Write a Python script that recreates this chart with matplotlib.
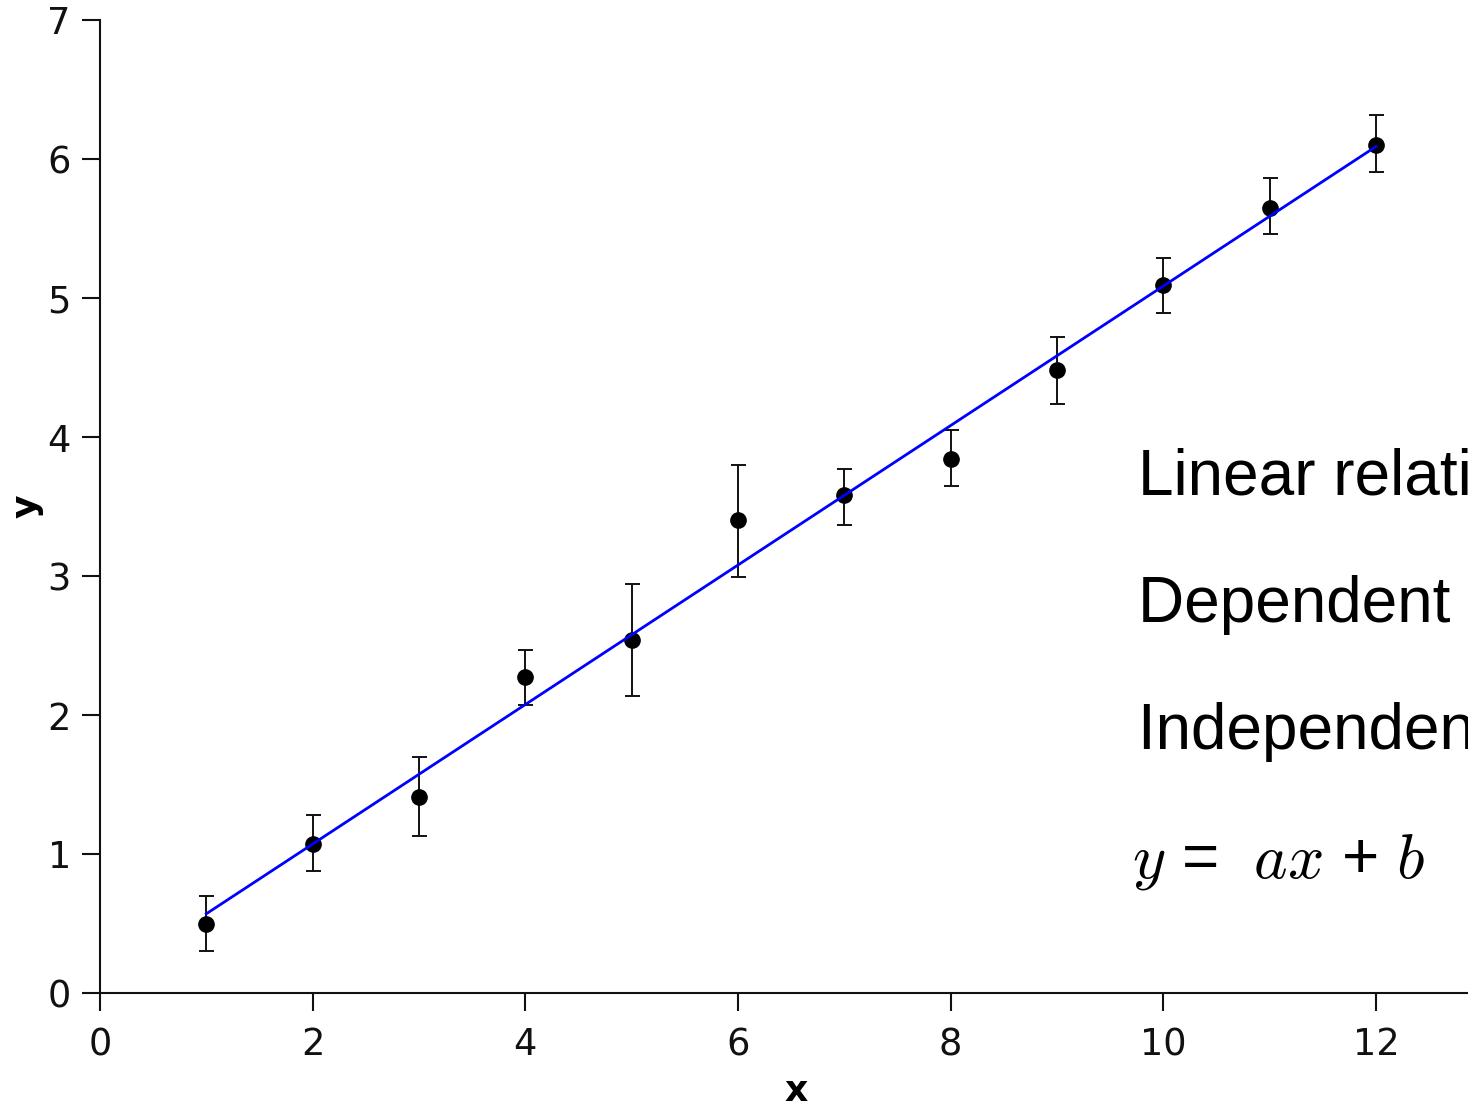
#!/usr/bin/env python3
"""
Linear relationship: measured points with error bars and a fitted line.
"""
import matplotlib
matplotlib.use("Agg")
import matplotlib.pyplot as plt

x_vals = [1, 2, 3, 4, 5, 6, 7, 8, 9, 10, 11, 12]
y_vals = [0.50, 1.07, 1.41, 2.27, 2.54, 3.40, 3.58, 3.84, 4.48, 5.09, 5.65, 6.10]
y_err_lo = [0.20, 0.19, 0.28, 0.20, 0.40, 0.41, 0.21, 0.19, 0.24, 0.20, 0.19, 0.19]
y_err_hi = [0.20, 0.21, 0.29, 0.20, 0.40, 0.40, 0.19, 0.21, 0.24, 0.20, 0.21, 0.22]

# fitted line end points
fit_x = [1, 12]
fit_y = [0.57, 6.09]

x_ticks = [0, 2, 4, 6, 8, 10, 12]
y_ticks = [0, 1, 2, 3, 4, 5, 6, 7]

notes = ["Linear relationship", "Dependent variable: y", "Independent variable: x"]
equation = r"$y$ =  $ax$ + $b$"

plt.rcParams["mathtext.fontset"] = "cm"

W, H = 1468, 1107
fig = plt.figure(figsize=(W / 100, H / 100), dpi=100)
left, bottom, top = 100 / W, (H - 993) / H, (H - 20) / H
ax = fig.add_axes([left, bottom, 1393 / W, top - bottom])

ax.errorbar(x_vals, y_vals, yerr=[y_err_lo, y_err_hi], fmt="o", color="black",
            ecolor="#111111", elinewidth=1.4, capsize=5.4, capthick=1.4,
            markersize=11, zorder=2)
ax.plot(fit_x, fit_y, color="#0000ff", linewidth=2.0, zorder=3)

ax.set_xlim(0, 13.1)
ax.set_ylim(0, 7)
ax.set_xticks(x_ticks)
ax.set_yticks(y_ticks)
for s in ("top", "right"):
    ax.spines[s].set_visible(False)
for s in ("left", "bottom"):
    ax.spines[s].set_linewidth(1.5)
    ax.spines[s].set_color("#111111")
ax.tick_params(direction="out", length=13, width=1.5, color="#111111",
               labelsize=26.5, labelcolor="#111111", pad=8)
ax.tick_params(axis="x", pad=11)
ax.set_xlabel("x", fontsize=26, fontweight="bold", labelpad=8)
ax.set_ylabel("y", fontsize=26, fontweight="bold", labelpad=3)

for i, t in enumerate(notes):
    fig.text(1138 / W, 1 - (495 + 127 * i) / H, t, fontsize=46,
             family="Liberation Sans", ha="left", va="baseline")
fig.text(1132 / W, 1 - 877 / H, equation, fontsize=46,
         family="Liberation Sans", ha="left", va="baseline")

fig.savefig("out.png", dpi=100)
